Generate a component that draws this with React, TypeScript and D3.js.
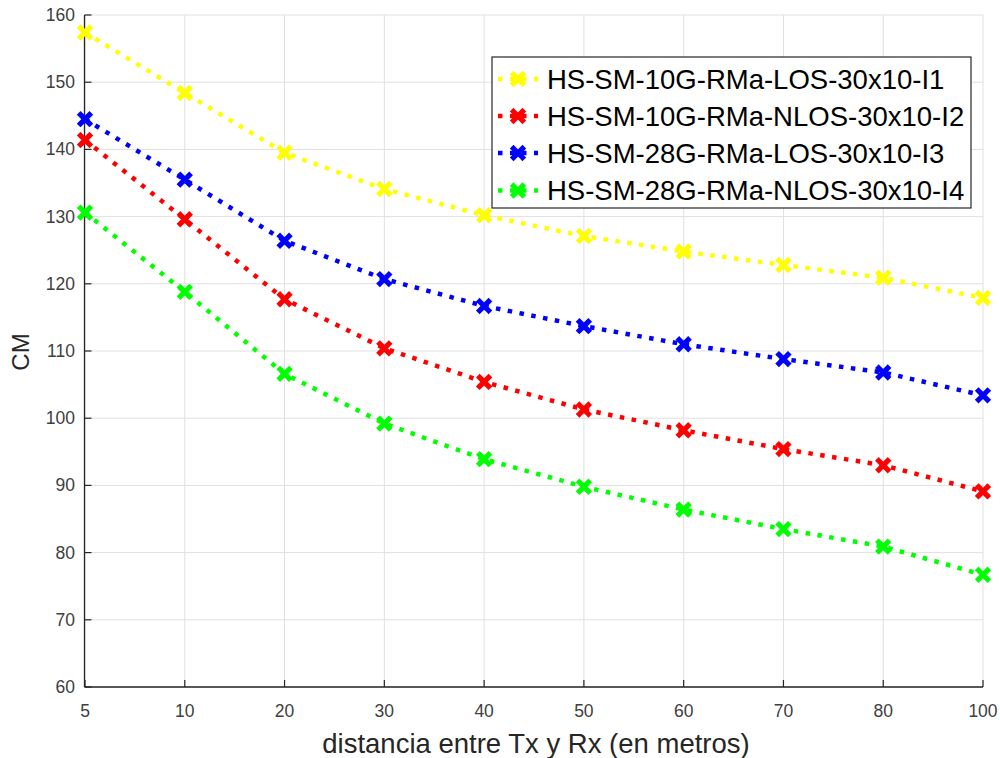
import React from "react";
import * as d3 from "d3";

const distances = ["5", "10", "20", "30", "40", "50", "60", "70", "80", "100"];
const yTicks = [60, 70, 80, 90, 100, 110, 120, 130, 140, 150, 160];

const losI1 = [157.4, 148.4, 139.5, 134.1, 130.2, 127.1, 124.8, 122.8, 120.9, 117.9];
const nlosI2 = [141.4, 129.6, 117.7, 110.4, 105.4, 101.3, 98.2, 95.4, 93.0, 89.1];
const los28I3 = [144.5, 135.5, 126.4, 120.7, 116.7, 113.7, 111.0, 108.8, 106.8, 103.4];
const nlos28I4 = [130.6, 118.8, 106.6, 99.2, 93.9, 89.8, 86.4, 83.5, 80.9, 76.7];

const seriesNames = [
  "HS-SM-10G-RMa-LOS-30x10-I1",
  "HS-SM-10G-RMa-NLOS-30x10-I2",
  "HS-SM-28G-RMa-LOS-30x10-I3",
  "HS-SM-28G-RMa-NLOS-30x10-I4",
];
const seriesColors = ["#ffff00", "#ff0000", "#0000ff", "#00ff00"];
const seriesValues = [losI1, nlosI2, los28I3, nlos28I4];

const FONT = "'Liberation Sans', Arial, Helvetica, sans-serif";

function XMark({ x, y, color }: { x: number; y: number; color: string }) {
  const a = 4.5;
  return (
    <path
      d={`M${x - a},${y - a}L${x + a},${y + a}M${x - a},${y + a}L${x + a},${y - a}`}
      stroke={color}
      strokeWidth={5.2}
      strokeLinecap="square"
      fill="none"
    />
  );
}

export default function App() {
  const left = 84.5;
  const right = 983;
  const top = 15;
  const bottom = 687;
  const x = d3.scalePoint<string>().domain(distances).range([85, right]);
  const y = d3.scaleLinear().domain([60, 160]).range([bottom, top]);
  const line = d3
    .line<number>()
    .x((_, i) => x(distances[i]) as number)
    .y((d) => y(d));

  const axisColor = "#262626";
  const gridColor = "#e0e0e0";
  const tickLen = 7;

  const legX = 492;
  const legY = 57;
  const legW = 479;
  const legH = 151;
  const rowY = [79, 116, 153, 190.5];

  return (
    <svg
      width={1000}
      height={758}
      style={{ position: "absolute", left: 0, top: 0, background: "#fff" }}
      fontFamily={FONT}
    >
      <rect x={0} y={0} width={1000} height={758} fill="#fff" />
      {distances.map((d) => (
        <line key={"gx" + d} x1={x(d)} x2={x(d)} y1={top} y2={bottom} stroke={gridColor} strokeWidth={1} />
      ))}
      {yTicks.map((t) => (
        <line key={"gy" + t} x1={left} x2={right} y1={y(t)} y2={y(t)} stroke={gridColor} strokeWidth={1} />
      ))}
      <line x1={left} x2={left} y1={top} y2={bottom} stroke={axisColor} strokeWidth={1.3} />
      <line x1={left} x2={right} y1={bottom} y2={bottom} stroke={axisColor} strokeWidth={1.3} />
      {yTicks.map((t) => (
        <g key={"yt" + t}>
          <line x1={left} x2={left + tickLen} y1={y(t)} y2={y(t)} stroke={axisColor} strokeWidth={1.2} />
          <text x={75} y={y(t) + 6} textAnchor="end" fontSize={17.5} fill="#404040">
            {t}
          </text>
        </g>
      ))}
      {distances.map((d) => (
        <g key={"xt" + d}>
          <line x1={x(d)} x2={x(d)} y1={bottom} y2={bottom - tickLen} stroke={axisColor} strokeWidth={1.2} />
          <text x={x(d)} y={717} textAnchor="middle" fontSize={17.5} fill="#404040">
            {d}
          </text>
        </g>
      ))}
      <text x={536} y={753} textAnchor="middle" fontSize={27.5} fill="#262626">
        distancia entre Tx y Rx (en metros)
      </text>
      <text transform={`translate(29,352) rotate(-90)`} textAnchor="middle" fontSize={24} fill="#262626">
        CM
      </text>
      {seriesValues.map((vals, si) => (
        <g key={"s" + si}>
          <path
            d={line(vals) as string}
            fill="none"
            stroke={seriesColors[si]}
            strokeWidth={4.5}
            strokeDasharray="4.5 7.5"
          />
          {vals.map((v, i) => (
            <XMark key={i} x={x(distances[i]) as number} y={y(v)} color={seriesColors[si]} />
          ))}
        </g>
      ))}
      <rect x={legX} y={legY} width={legW} height={legH} fill="#fff" stroke={axisColor} strokeWidth={1.2} />
      {seriesNames.map((n, i) => (
        <g key={"l" + i}>
          <line
            x1={498}
            x2={538}
            y1={rowY[i]}
            y2={rowY[i]}
            stroke={seriesColors[i]}
            strokeWidth={4.5}
            strokeDasharray="4.5 7.5"
          />
          <XMark x={518} y={rowY[i]} color={seriesColors[i]} />
          <text x={547} y={rowY[i] + 9.5} fontSize={27.5} fill="#000">
            {n}
          </text>
        </g>
      ))}
    </svg>
  );
}
